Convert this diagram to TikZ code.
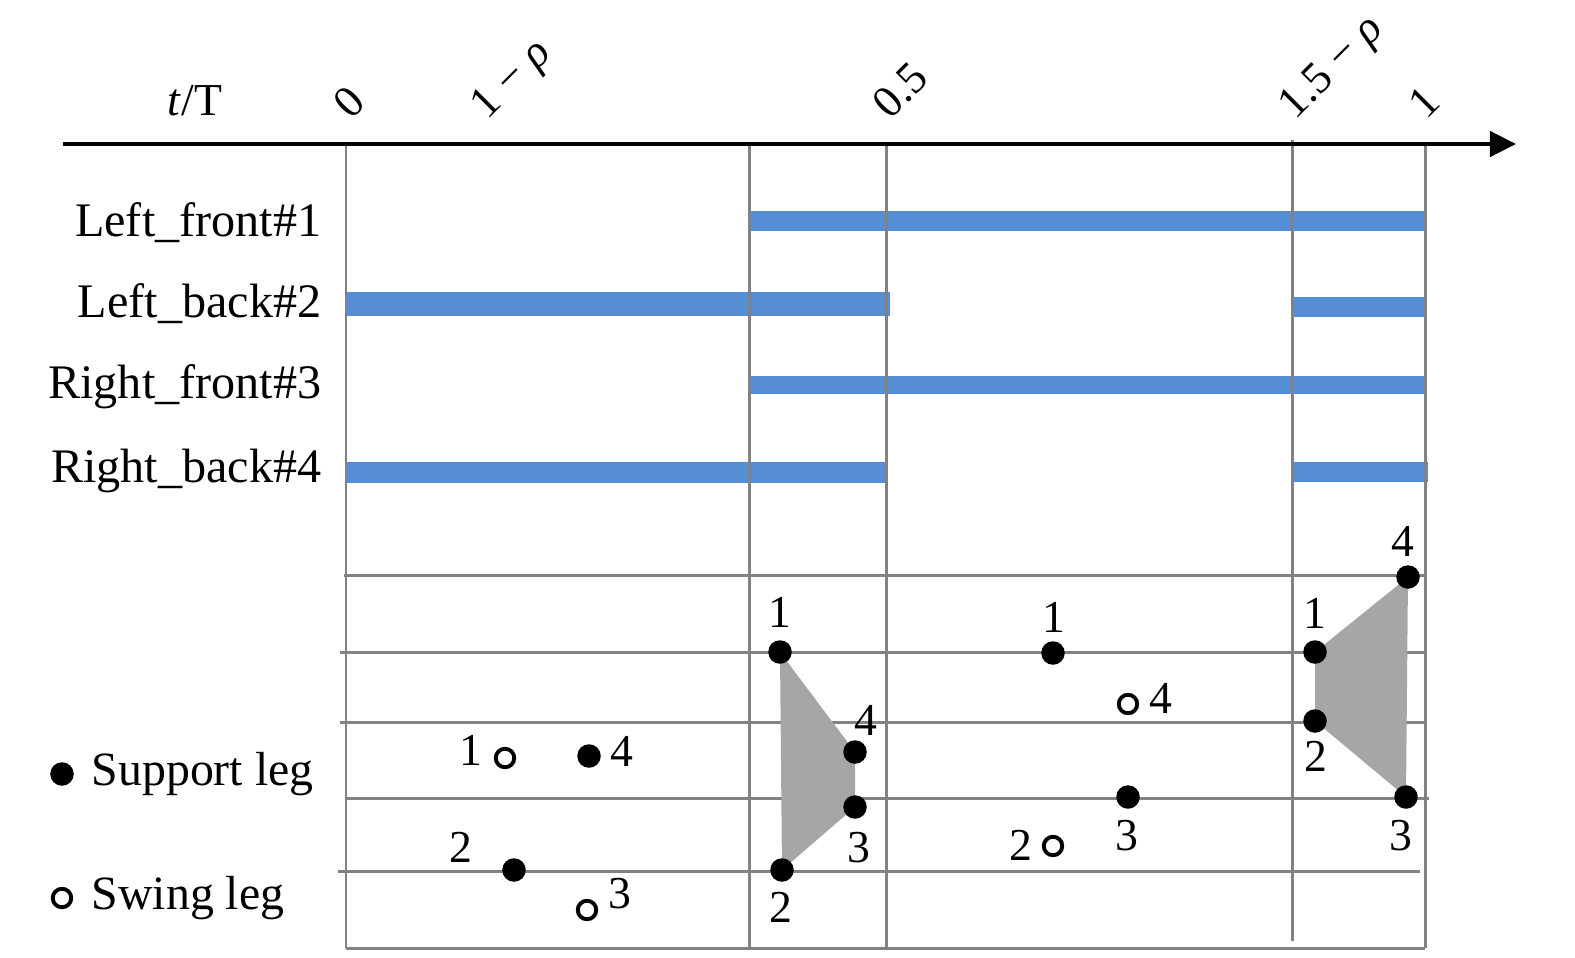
\documentclass[tikz,border=0pt]{standalone}
\usepackage{fontspec}
\setmainfont{Liberation Serif}
\usetikzlibrary{arrows.meta,backgrounds}

\definecolor{stanceblue}{RGB}{85,142,213}
\definecolor{gridgray}{RGB}{130,130,130}
\definecolor{polygray}{RGB}{166,166,166}

\tikzset{
  gridline/.style={draw=gridgray, line width=0.85pt},
  support/.style={circle, fill=black, inner sep=0pt, minimum size=0.235cm},
  swing/.style={circle, draw=black, fill=white, line width=1.1pt, inner sep=0pt, minimum size=0.185cm},
  num/.style={inner sep=0pt, font=\fontsize{13}{15}\selectfont},
  rowlabel/.style={anchor=base east, inner sep=0pt, font=\fontsize{13.7}{16}\selectfont},
  legtext/.style={anchor=base west, inner sep=0pt, font=\fontsize{13.6}{16}\selectfont},
  ticklabel/.style={anchor=base west, rotate=45, inner sep=0pt, font=\fontsize{12.8}{15}\selectfont},
}

\newcommand{\stance}[4]{% y, from, to, thickness
  \draw[stanceblue, line width=#4] (#2,#1) -- (#3,#1);}

\newcommand{\legmark}[5]{% style, name, position, label position, label
  \node[#1] (#2) at (#3) {};
  \node[num] (#2n) at (#4) {#5};}

\begin{document}
\begin{tikzpicture}[x=0.01cm, y=-0.01cm]
\useasboundingbox (0,0) rectangle (1575,957);

\begin{scope}[on background layer]
% stance phases
\stance{221}{749}{1425}{0.19cm}
\stance{304}{346}{890}{0.23cm}
\stance{307}{1292}{1425}{0.2cm}
\stance{385}{749}{1425}{0.18cm}
\stance{472}{346}{886}{0.21cm}
\stance{472}{1292}{1428}{0.2cm}

% grid
\foreach \x in {346,749,886,1425}
  \draw[gridline] (\x,144) -- (\x,948);
\draw[gridline] (1292,140) -- (1292,941);
\draw[gridline] (346,948) -- (1425,948);
\foreach \y/\a/\b in {575/344/1425, 652/340/1425, 722/340/1425, 798/345/1429, 871/338/1420}
  \draw[gridline] (\a,\y) -- (\b,\y);
\end{scope}

% time axis
\coordinate (origin) at (63,144);
\coordinate (tip) at (1516,144);
\draw[line width=1.3pt, -{Triangle[length=0.26cm, width=0.25cm]}] (origin) -- (tip);
\node[anchor=base west, inner sep=0pt, font=\fontsize{13}{15}\selectfont] (tT) at (167,115) {\textit{t}/T};
\node[ticklabel] (t0) at (351,121) {0};
\node[ticklabel] (t1) at (487,121) {1 − \textit{ρ}};
\node[ticklabel] (t2) at (890,121) {0.5};
\node[ticklabel] (t3) at (1295,121) {1.5 − \textit{ρ}};
\node[ticklabel] (t4) at (1426,121) {1};

% legs
\node[rowlabel] (lf) at (322,236) {Left\_front\#1};
\node[rowlabel] (lb) at (322,317) {Left\_back\#2};
\node[rowlabel] (rf) at (322,398) {Right\_front\#3};
\node[rowlabel] (rb) at (322,482) {Right\_back\#4};

% foot points
\legmark{swing}{a1}{505,758}{471,750}{1}
\legmark{support}{a4}{589,756}{622,751}{4}
\legmark{support}{a2}{514,870}{461,847}{2}
\legmark{swing}{a3}{587,910}{620,894}{3}

\legmark{support}{b1}{780,652}{780,612}{1}
\legmark{support}{b4}{855,752}{866,720}{4}
\legmark{support}{b3}{855,807}{859,848}{3}
\legmark{support}{b2}{782,870}{781,907}{2}

\legmark{support}{c1}{1053,653}{1054,617}{1}
\legmark{swing}{c4}{1128,704}{1161,698}{4}
\legmark{support}{c3}{1128,797}{1127,836}{3}
\legmark{swing}{c2}{1053,846}{1021,845}{2}

\legmark{support}{d4}{1408,577}{1403,541}{4}
\legmark{support}{d1}{1315,652}{1315,613}{1}
\legmark{support}{d2}{1315,721}{1316,756}{2}
\legmark{support}{d3}{1406,797}{1401,836}{3}

\begin{scope}[on background layer]
\fill[polygray] (b1.center) -- (b4.center) -- (b3.center) -- (b2.center) -- cycle;
\fill[polygray] (d4.center) -- (d1.center) -- (d2.center) -- (d3.center) -- cycle;
\end{scope}

% legend
\node[support] (supp) at (62,774) {};
\node[legtext] (supptext) at (91,785) {Support leg};
\node[swing] (sw) at (62,898) {};
\node[legtext] (swtext) at (91,909) {Swing leg};

\end{tikzpicture}
\end{document}
